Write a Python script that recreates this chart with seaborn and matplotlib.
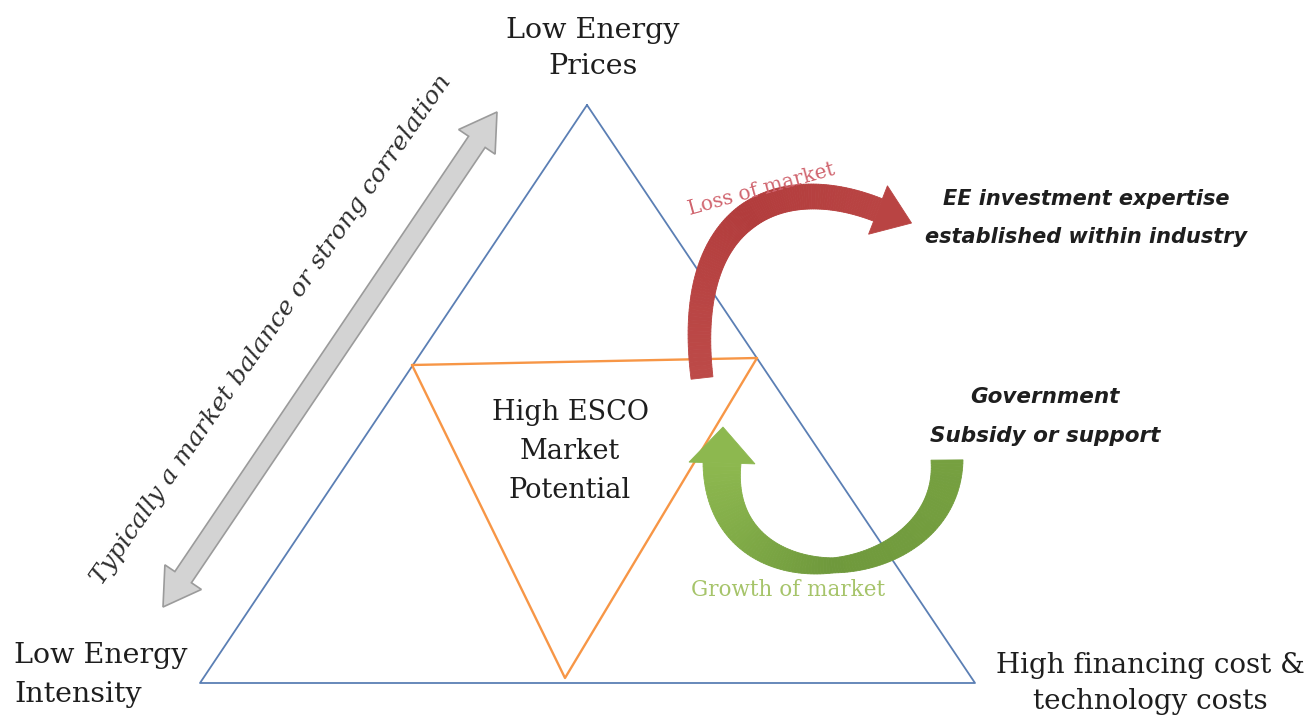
import matplotlib
matplotlib.use("Agg")
import matplotlib.pyplot as plt
import numpy as np
import seaborn as sns

# diagram geometry (pixel space of the 1312x721 canvas, y down)
outer_x = [587, 975, 200, 587]
outer_y = [105, 683, 683, 105]
inner_x = [412, 757, 565, 412]
inner_y = [365, 358, 678, 365]

# curved arrows: cubic bezier control points (x, y)
loss_ctrl = [(702, 378), (682, 210), (782, 172), (878, 210)]
growth_ctrl = [(947, 460), (950, 588), (716, 612), (722, 463)]
balance_ends = [(163, 607), (497, 112)]

# text
top_lines = ["Low Energy", "Prices"]
left_lines = ["Low Energy", "Intensity"]
right_lines = ["High financing cost &", "technology costs"]
center_lines = ["High ESCO", "Market", "Potential"]
ee_lines = ["EE investment expertise", "established within industry"]
gov_lines = ["Government", "Subsidy or support"]
balance_text = "Typically a market balance or strong correlation"

sns.set_theme(style="white")
plt.rcParams["font.family"] = ["DejaVu Serif", "DejaVu Sans"]

fig = plt.figure(figsize=(13.12, 7.21), dpi=100)
ax = fig.add_axes([0, 0, 1, 1])
ax.set_xlim(0, 1312)
ax.set_ylim(721, 0)
ax.axis("off")


def bezier(ctrl, n=120):
    p = np.array(ctrl, dtype=float)
    t = np.linspace(0, 1, n)[:, None]
    pts = ((1 - t) ** 3) * p[0] + 3 * ((1 - t) ** 2) * t * p[1] + 3 * (1 - t) * t ** 2 * p[2] + t ** 3 * p[3]
    return pts, t.ravel()


def curved_arrow(ctrl, w_t, w_v, head_len, head_w, colors):
    pts, t = bezier(ctrl)
    d = np.gradient(pts, axis=0)
    d /= np.linalg.norm(d, axis=1)[:, None]
    nrm = np.column_stack([-d[:, 1], d[:, 0]])
    w = np.interp(t, w_t, w_v)
    left = pts + nrm * w[:, None] / 2
    right = pts - nrm * w[:, None] / 2
    cmap = matplotlib.colors.LinearSegmentedColormap.from_list("a", colors)
    for i in range(len(pts) - 1):
        quad = np.array([left[i], left[i + 1], right[i + 1], right[i]])
        ax.fill(quad[:, 0], quad[:, 1], color=cmap(t[i]), lw=0.6, ec=cmap(t[i]), zorder=4)
    end, dd, nn = pts[-1], d[-1], nrm[-1]
    head = np.array([end + nn * head_w / 2, end + dd * head_len, end - nn * head_w / 2])
    ax.fill(head[:, 0], head[:, 1], color=cmap(1.0), lw=0.6, ec=cmap(1.0), zorder=4)


def double_arrow(p0, p1, shaft, head_w, head_len):
    p0, p1 = np.array(p0, float), np.array(p1, float)
    u = (p1 - p0) / np.linalg.norm(p1 - p0)
    n = np.array([-u[1], u[0]])
    b0, b1 = p0 + u * head_len, p1 - u * head_len
    poly = np.array([
        p0, b0 + n * head_w / 2, b0 + n * shaft / 2, b1 + n * shaft / 2, b1 + n * head_w / 2,
        p1, b1 - n * head_w / 2, b1 - n * shaft / 2, b0 - n * shaft / 2, b0 - n * head_w / 2, p0,
    ])
    ax.fill(poly[:, 0], poly[:, 1], fc="#d3d3d3", ec="#9b9b9b", lw=1.2, zorder=3)


# triangles
sns.lineplot(x=outer_x, y=outer_y, sort=False, estimator=None, color="#5b7fb4", lw=1.3, ax=ax)
sns.lineplot(x=inner_x, y=inner_y, sort=False, estimator=None, color="#f79646", lw=1.7, ax=ax)
ax.set_xlim(0, 1312)
ax.set_ylim(721, 0)

# arrows
double_arrow(balance_ends[0], balance_ends[1], 20, 44, 36)
curved_arrow(loss_ctrl, [0, 0.5, 1], [22, 26, 24], 36, 52, ["#bd4a48", "#b23c3c", "#b94443"])
curved_arrow(growth_ctrl, [0, 0.5, 1], [32, 15, 38], 36, 66, ["#76a040", "#6f993c", "#8db84f"])

dark = "#1e1e1e"
serif_kw = dict(family="DejaVu Serif", color=dark, ha="center", va="baseline", zorder=5)
for line, y in zip(top_lines, [38, 74]):
    ax.text(593, y, line, fontsize=20.5, **serif_kw)
for line, y in zip(center_lines, [420, 459, 498]):
    ax.text(570, y, line, fontsize=19.5, **serif_kw)
for line, y in zip(right_lines, [673, 709]):
    ax.text(1150, y, line, fontsize=20, **serif_kw)
for line, y in zip(left_lines, [663, 702]):
    ax.text(14, y, line, fontsize=20.5, family="DejaVu Serif", color=dark, ha="left", va="baseline", zorder=5)

sans_kw = dict(family="DejaVu Sans", style="italic", weight="bold", color=dark, ha="center", va="baseline", zorder=5)
for line, y in zip(ee_lines, [205, 243]):
    ax.text(1086, y, line, fontsize=15, **sans_kw)
for line, y in zip(gov_lines, [403, 442]):
    ax.text(1045, y, line, fontsize=15.5, **sans_kw)

ax.text(271, 330, balance_text, fontsize=18, family="DejaVu Serif", style="italic", color="#2e2e2e",
        rotation=55.3, rotation_mode="anchor", ha="center", va="center", zorder=5)
ax.text(762, 189, "Loss of market", fontsize=14.5, family="DejaVu Serif", color="#d0646e",
        rotation=15.5, rotation_mode="anchor", ha="center", va="center", zorder=5)
ax.text(788, 590, "Growth of market", fontsize=15.5, family="DejaVu Serif", color="#a6c46a",
        ha="center", va="center", zorder=5)

fig.savefig("out.png", dpi=100, facecolor="white")
